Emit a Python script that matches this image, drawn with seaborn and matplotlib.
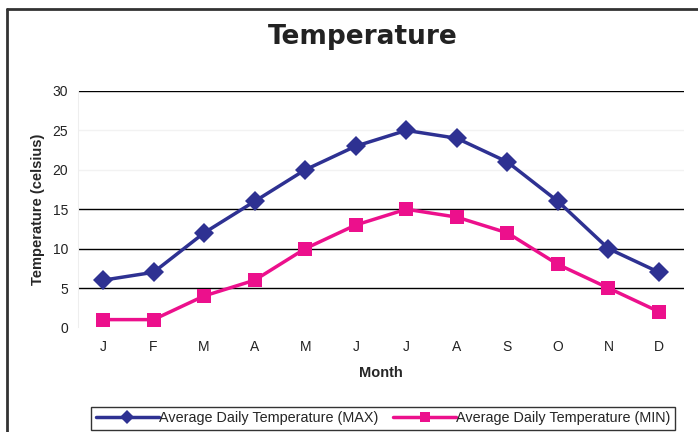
import matplotlib
matplotlib.use("Agg")
import matplotlib.pyplot as plt
import seaborn as sns
import pandas as pd
from matplotlib.lines import Line2D

months = ["J", "F", "M", "A", "M", "J", "J", "A", "S", "O", "N", "D"]
temp_max = [6, 7, 12, 16, 20, 23, 25, 24, 21, 16, 10, 7]
temp_min = [1, 1, 4, 6, 10, 13, 15, 14, 12, 8, 5, 2]
label_max = "Average Daily Temperature (MAX)"
label_min = "Average Daily Temperature (MIN)"

df = pd.DataFrame({"idx": range(len(months)), "max": temp_max, "min": temp_min})

sns.set_style("white")
plt.rcParams["font.family"] = ["Liberation Sans", "DejaVu Sans"]

fig = plt.figure(figsize=(6.98, 4.32), dpi=100)
ax = fig.add_axes([0.1113, 0.2419, 0.8691, 0.5475])

# gridlines (20 and 25 are nearly invisible in the original)
for y in [5, 10, 15, 30]:
    ax.axhline(y, color="black", lw=1, zorder=0)
for y in [20, 25]:
    ax.axhline(y, color="#f2f2f2", lw=1, zorder=0)

sns.lineplot(data=df, x="idx", y="max", ax=ax, color="#2e3192", lw=2.5,
             marker="D", markersize=10, markeredgewidth=0, label=label_max)
sns.lineplot(data=df, x="idx", y="min", ax=ax, color="#ec108c", lw=2.5,
             marker="s", markersize=9.5, markeredgewidth=0, label=label_min)

ax.set_xlim(-0.5, len(months) - 0.5)
ax.set_ylim(0, 30)
ax.set_xticks(range(len(months)))
ax.set_xticklabels(months)
ax.set_yticks(range(0, 31, 5))
ax.tick_params(axis="both", labelsize=10, colors="#222222", length=0)
ax.tick_params(axis="y", pad=7)
ax.tick_params(axis="x", pad=9)
for s in ["top", "right", "bottom"]:
    ax.spines[s].set_visible(False)
ax.spines["left"].set_color("#eeeeee")

ax.set_xlabel("Month", fontsize=10.5, fontweight="bold", labelpad=9)
ax.set_ylabel("Temperature (celsius)", fontsize=10.5, fontweight="bold", labelpad=5)

fig.text(0.52, 0.915, "Temperature", ha="center", va="center",
         fontsize=19, fontweight="bold", family="DejaVu Sans", color="#222222")

ax.get_legend().remove()
leg = fig.legend(loc="center", bbox_to_anchor=(0.549, 0.032), ncol=2,
                 fontsize=10.4, frameon=True, fancybox=False, handlelength=4.4,
                 handletextpad=0.0, columnspacing=1.0, borderpad=0.3,
                 borderaxespad=0)
leg.get_frame().set_edgecolor("black")
leg.get_frame().set_linewidth(1)
for h in leg.legend_handles:
    h.set_markersize(7.5)

# outer chart frame (top and left edges visible)
fig.add_artist(Line2D([0.01, 1.0], [0.979, 0.979], transform=fig.transFigure,
                      color="#333333", lw=2))
fig.add_artist(Line2D([0.01, 0.01], [0.0, 0.979], transform=fig.transFigure,
                      color="#333333", lw=2))

fig.savefig("out.png", dpi=100)
